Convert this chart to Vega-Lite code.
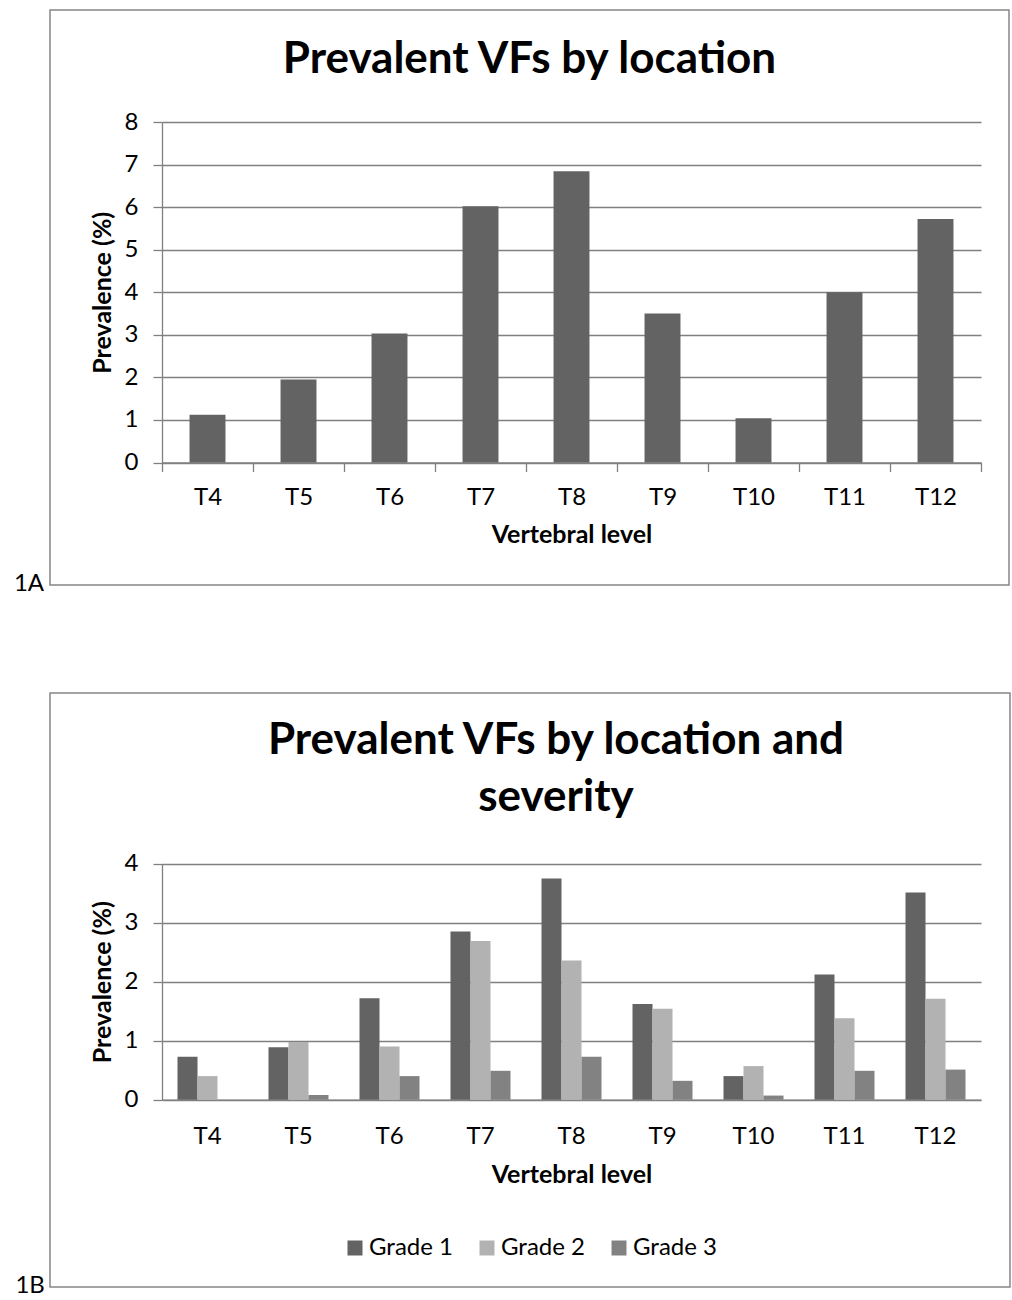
{
  "$schema": "https://vega.github.io/schema/vega-lite/v6.json",
  "padding": {"left": 13, "top": 9, "right": 0, "bottom": 0},
  "spacing": 96,
  "resolve": {"legend": {"color": "independent"}},
  "config": {
    "font": "Lato",
    "view": {"stroke": "#878787", "strokeWidth": 1.5},
    "axis": {
      "domainColor": "#808080", "tickColor": "#808080", "gridColor": "#808080",
      "domainWidth": 1.3, "gridWidth": 1.3, "tickWidth": 1.3, "tickSize": 9,
      "labelFont": "Lato", "labelFontSize": 24, "labelColor": "#000000",
      "titleFont": "Lato", "titleFontSize": 25, "titleFontWeight": "bold", "titleColor": "#000000"
    },
    "title": {"font": "Lato", "color": "#000000"},
    "legend": {"labelFont": "Lato", "labelFontSize": 24, "labelColor": "#000000"}
  },
  "datasets": {
    "a": [
      {"level": "T4", "prevalence": 1.12},
      {"level": "T5", "prevalence": 1.95},
      {"level": "T6", "prevalence": 3.03},
      {"level": "T7", "prevalence": 6.02},
      {"level": "T8", "prevalence": 6.84},
      {"level": "T9", "prevalence": 3.50},
      {"level": "T10", "prevalence": 1.04},
      {"level": "T11", "prevalence": 4.00},
      {"level": "T12", "prevalence": 5.72}
    ],
    "b": [
      {"level": "T4", "grade": "Grade 1", "prevalence": 0.73},
      {"level": "T4", "grade": "Grade 2", "prevalence": 0.40},
      {"level": "T4", "grade": "Grade 3", "prevalence": 0},
      {"level": "T5", "grade": "Grade 1", "prevalence": 0.89},
      {"level": "T5", "grade": "Grade 2", "prevalence": 0.98},
      {"level": "T5", "grade": "Grade 3", "prevalence": 0.08},
      {"level": "T6", "grade": "Grade 1", "prevalence": 1.72},
      {"level": "T6", "grade": "Grade 2", "prevalence": 0.90},
      {"level": "T6", "grade": "Grade 3", "prevalence": 0.40},
      {"level": "T7", "grade": "Grade 1", "prevalence": 2.85},
      {"level": "T7", "grade": "Grade 2", "prevalence": 2.69},
      {"level": "T7", "grade": "Grade 3", "prevalence": 0.49},
      {"level": "T8", "grade": "Grade 1", "prevalence": 3.75},
      {"level": "T8", "grade": "Grade 2", "prevalence": 2.36},
      {"level": "T8", "grade": "Grade 3", "prevalence": 0.73},
      {"level": "T9", "grade": "Grade 1", "prevalence": 1.62},
      {"level": "T9", "grade": "Grade 2", "prevalence": 1.54},
      {"level": "T9", "grade": "Grade 3", "prevalence": 0.32},
      {"level": "T10", "grade": "Grade 1", "prevalence": 0.40},
      {"level": "T10", "grade": "Grade 2", "prevalence": 0.57},
      {"level": "T10", "grade": "Grade 3", "prevalence": 0.07},
      {"level": "T11", "grade": "Grade 1", "prevalence": 2.12},
      {"level": "T11", "grade": "Grade 2", "prevalence": 1.38},
      {"level": "T11", "grade": "Grade 3", "prevalence": 0.49},
      {"level": "T12", "grade": "Grade 1", "prevalence": 3.51},
      {"level": "T12", "grade": "Grade 2", "prevalence": 1.71},
      {"level": "T12", "grade": "Grade 3", "prevalence": 0.51}
    ]
  },
  "vconcat": [
    {
      "title": {"text": "1A", "orient": "left", "anchor": "start", "angle": 0, "align": "right", "baseline": "alphabetic", "fontSize": 24, "fontWeight": "normal", "offset": -25, "dy": 5},
      "vconcat": [
        {
          "width": 959,
          "height": 575,
          "title": {"text": "Prevalent VFs by location", "fontSize": 44, "fontWeight": "bold", "offset": -107, "baseline": "alphabetic", "anchor": "middle", "frame": "group"},
          "data": {"name": "a"},
          "mark": {"type": "bar", "color": "#636363", "width": {"band": 0.395}},
          "encoding": {
            "x": {
              "field": "level", "type": "nominal", "sort": null,
              "scale": {"range": [112, 931], "paddingInner": 0, "paddingOuter": 0},
              "axis": {"title": "Vertebral level", "labelAngle": 0, "offset": -122.5, "tickBand": "extent", "labelPadding": 14, "titlePadding": 13}
            },
            "y": {
              "field": "prevalence", "type": "quantitative",
              "scale": {"domain": [0, 8], "range": [452.5, 112], "nice": false},
              "axis": {"title": "Prevalence (%)", "values": [0, 1, 2, 3, 4, 5, 6, 7, 8], "offset": -112, "labelPadding": 15, "titlePadding": 9, "grid": true}
            }
          }
        }
      ]
    },
    {
      "title": {"text": "1B", "orient": "left", "anchor": "start", "angle": 0, "align": "right", "baseline": "alphabetic", "fontSize": 24, "fontWeight": "normal", "offset": -25, "dy": 5},
      "resolve": {"legend": {"color": "independent"}},
      "vconcat": [
        {
          "width": 960,
          "height": 594,
          "title": {"text": ["Prevalent VFs by location and", "severity"], "fontSize": 44, "fontWeight": "bold", "offset": -162, "lineHeight": 57, "baseline": "alphabetic", "anchor": "middle", "frame": "group", "dx": 26},
          "data": {"name": "b"},
          "mark": {"type": "bar"},
          "encoding": {
            "x": {
              "field": "level", "type": "nominal", "sort": null,
              "scale": {"range": [112, 931], "paddingInner": 0, "paddingOuter": 0},
              "axis": {"title": "Vertebral level", "labelAngle": 0, "offset": -187.3, "ticks": false, "labelPadding": 25, "titlePadding": 14}
            },
            "xOffset": {"field": "grade", "type": "nominal", "sort": null, "scale": {"paddingInner": 0, "paddingOuter": 0.775}},
            "y": {
              "field": "prevalence", "type": "quantitative",
              "scale": {"domain": [0, 4], "range": [406.7, 170.7], "nice": false},
              "axis": {"title": "Prevalence (%)", "values": [0, 1, 2, 3, 4], "offset": -112, "labelPadding": 15, "titlePadding": 9, "grid": true}
            },
            "color": {
              "field": "grade", "type": "nominal",
              "scale": {"domain": ["Grade 1", "Grade 2", "Grade 3"], "range": ["#636363", "#b2b2b2", "#828282"]},
              "legend": {"orient": "none", "legendX": 293, "legendY": 543, "direction": "horizontal", "title": null, "symbolType": "square", "symbolSize": 225, "symbolStrokeWidth": 0, "symbolOpacity": 1, "columnPadding": 22, "labelOffset": 2}
            }
          }
        }
      ]
    }
  ]
}
